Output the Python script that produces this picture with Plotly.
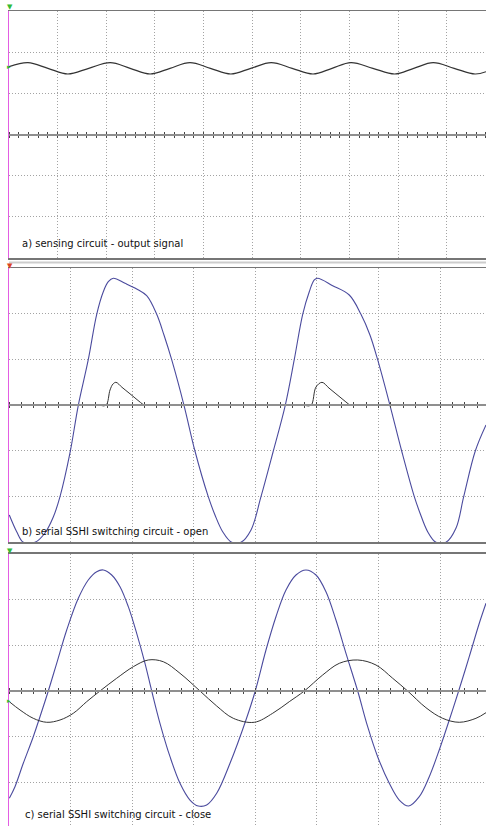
import plotly.graph_objects as go

# ---------------- data (time and amplitude in screen divisions) ----------------
# a) sensing circuit - output signal
A_T = [0.0, 0.39, 0.80, 1.21, 1.64, 2.08, 2.49, 2.90, 3.31, 3.72, 4.14, 4.56, 4.97,
       5.39, 5.82, 6.25, 6.64, 7.03, 7.48, 7.93, 8.32, 8.72, 9.15, 9.58, 9.805]
A_V = [1.647, 1.744, 1.608, 1.470, 1.608, 1.744, 1.608, 1.470, 1.608, 1.744, 1.608, 1.470, 1.608,
       1.744, 1.608, 1.470, 1.608, 1.744, 1.608, 1.470, 1.608, 1.744, 1.608, 1.470, 1.525]

# b) serial SSHI switching circuit - open
B_T1 = [0.005, 0.125, 0.232, 0.422, 0.584, 0.719, 0.828, 0.990, 1.125, 1.287, 1.424, 1.531,
        1.612, 1.693, 1.883, 2.073, 2.235, 2.398, 2.516, 2.641, 2.841, 3.019, 3.235, 3.344,
        3.469, 3.615, 3.766, 3.929, 4.091, 4.291, 4.485, 4.631, 4.768, 4.875, 4.956, 5.011,
        5.255, 5.524, 5.714, 5.860, 5.985, 6.185, 6.375, 6.580, 6.672, 6.797, 6.932, 7.094,
        7.256, 7.382, 7.570, 7.744]
B_V1 = [-2.402, -2.768, -3.0, -3.0, -2.796, -2.446, -2.001, -1.044, 0.0, 0.998, 1.993, 2.487,
        2.706, 2.781, 2.671, 2.547, 2.400, 1.993, 1.539, 0.998, 0.0, -1.001, -2.001, -2.402,
        -2.768, -3.0, -3.0, -2.730, -2.001, -1.001, 0.0, 0.998, 1.993, 2.487, 2.744, 2.781,
        2.619, 2.415, 1.993, 1.539, 0.998, 0.0, -1.001, -2.001, -2.358, -2.768, -3.0, -3.0,
        -2.693, -2.001, -1.001, -0.431]
B_T2 = [1.477, 1.575, 1.640, 1.688, 1.737, 1.834, 1.964, 2.094, 2.192, None,
        4.794, 4.903, 4.984, 5.081, 5.195, 5.308, 5.422, 5.536]
B_V2 = [0.0, 0.0, 0.335, 0.466, 0.503, 0.394, 0.252, 0.107, 0.0, None,
        0.0, 0.0, 0.400, 0.503, 0.377, 0.252, 0.126, 0.0]

# c) serial SSHI switching circuit - close
C_T1 = [0.005, 0.097, 0.232, 0.394, 0.503, 0.638, 0.774, 0.937, 1.125, 1.287, 1.424, 1.531,
        1.667, 1.802, 1.937, 2.073, 2.208, 2.317, 2.451, 2.614, 2.776, 2.938, 3.073, 3.209,
        3.372, 3.588, 3.847, 3.998, 4.172, 4.334, 4.497, 4.659, 4.821, 4.984, 5.146,
        5.308, 5.471, 5.661, 5.823, 5.985, 6.174, 6.336, 6.489, 6.661, 6.823, 6.985, 7.148,
        7.300, 7.472, 7.635, 7.744]
C_V1 = [-2.345, -2.092, -1.580, -0.999, -0.562, 0.0, 0.605, 1.333, 2.026, 2.426, 2.608, 2.645,
        2.536, 2.280, 1.843, 1.261, 0.605, 0.0, -0.706, -1.436, -2.017, -2.383, -2.514, -2.492,
        -2.236, -1.580, -0.634, 0.0, 0.896, 1.624, 2.208, 2.536, 2.645, 2.536, 2.170,
        1.552, 0.824, 0.0, -0.780, -1.436, -2.017, -2.383, -2.514, -2.310, -1.873, -1.290, -0.634,
        0.0, 0.750, 1.480, 1.917]
C_T2 = [0.005, 0.179, 0.394, 0.612, 0.828, 1.044, 1.261, 1.477, 1.748, 2.018, 2.261, 2.505,
        2.776, 3.101, 3.372, 3.641, 3.982, 4.281, 4.550, 4.794, 5.093, 5.362, 5.661, 5.958,
        6.229, 6.472, 6.769, 7.040, 7.310, 7.581, 7.744]
C_V2 = [-0.234, -0.415, -0.597, -0.684, -0.634, -0.487, -0.234, 0.0, 0.278, 0.531, 0.678, 0.640,
        0.387, 0.0, -0.328, -0.597, -0.684, -0.487, -0.234, 0.0, 0.350, 0.605, 0.678, 0.568,
        0.278, 0.0, -0.365, -0.597, -0.684, -0.597, -0.474]

LABELS = ["a) sensing circuit - output signal",
          "b) serial SSHI switching circuit - open",
          "c) serial SSHI switching circuit - close"]

# ---------------- layout helpers ----------------
W, H = 486, 826
LEFT = 9
BLUE = "#4b4b9e"
BLACK = "#333333"
GRID = "#a3a3a3"
MAGENTA = "#e35de3"


def pp(px_y):
    return 1 - px_y / H


panels = [
    dict(top=11, bottom=258, xr=[0, 9.805], yr=[-3, 3], side="bottom", mirror=True),
    dict(top=268.3, bottom=542.3, xr=[0, 7.744], yr=[-3, 3], side="bottom", mirror=True),
    dict(top=553.75, bottom=826, xr=[0, 7.744], yr=[-2.951, 3], side="top", mirror=False),
]

fig = go.Figure()

series = [
    [(A_T, A_V, BLACK, 1.2)],
    [(B_T1, B_V1, BLUE, 1.1), (B_T2, B_V2, BLACK, 1.0)],
    [(C_T1, C_V1, BLUE, 1.1), (C_T2, C_V2, BLACK, 1.0)],
]

layout = {}
annotations = []
xdom = [LEFT / W, 1]
for i, p in enumerate(panels):
    n = i + 1
    xs = "" if n == 1 else str(n)
    ydom = [pp(p["bottom"]), pp(p["top"])]
    layout["xaxis" + xs] = dict(
        domain=xdom, range=p["xr"], anchor="y" + xs, side=p["side"],
        showgrid=True, gridcolor=GRID, griddash="1px,2px", gridwidth=1,
        dtick=1, tick0=0, showticklabels=False, ticks="",
        showline=True, linecolor="#767676", linewidth=1.5, mirror=p["mirror"],
        zeroline=False, fixedrange=True)
    layout["yaxis" + xs] = dict(
        domain=ydom, range=p["yr"], anchor="x" + xs,
        showgrid=True, gridcolor=GRID, griddash="1px,2px", gridwidth=1,
        dtick=1, tick0=0, showticklabels=False, ticks="",
        showline=True, linecolor=MAGENTA, linewidth=1, mirror=False,
        zeroline=False, fixedrange=True)
    # centre axis with crossing tick marks (two overlaid axes)
    r0, r1 = p["yr"]
    cpos = ydom[0] + (0 - r0) / (r1 - r0) * (ydom[1] - ydom[0])
    for k, sd in enumerate(["bottom", "top"]):
        an = 4 + 2 * i + k
        layout["xaxis%d" % an] = dict(
            overlaying="x" + xs, anchor="free", position=cpos, side=sd,
            range=p["xr"], showgrid=False, zeroline=False,
            showline=True, linecolor="#8f8f8f", linewidth=2,
            ticks="outside", ticklen=2, tickwidth=1, tickcolor="#444444",
            dtick=0.2, tick0=0, showticklabels=False, fixedrange=True)
        fig.add_trace(go.Scatter(x=[None], y=[None], xaxis="x%d" % an, yaxis="y" + xs,
                                 showlegend=False, hoverinfo="skip"))
    for (t, v, col, w) in series[i]:
        fig.add_trace(go.Scatter(x=t, y=v, mode="lines", xaxis="x" + xs, yaxis="y" + xs,
                                 line=dict(color=col, width=w, shape="spline", smoothing=1.0),
                                 showlegend=False, hoverinfo="skip", connectgaps=False))

label_pos = [(20, 244), (20, 531.7), (23, 814.3)]
for (lx, ly), txt in zip(label_pos, LABELS):
    annotations.append(dict(x=lx / W, y=pp(ly), xref="paper", yref="paper", text=txt,
                            showarrow=False, xanchor="left", yanchor="middle",
                            font=dict(family="DejaVu Sans", size=10, color="#111111")))

# small scope markers (trigger / channel level)
for (mx, my, sym, col) in [(10, 7, "▼", "#33bb33"), (9, 67, "▸", "#33bb33"),
                           (10, 266, "▼", "#dd4422"), (10, 551, "▼", "#33bb33"),
                           (9, 701, "▸", "#33bb33")]:
    annotations.append(dict(x=mx / W, y=pp(my), xref="paper", yref="paper", text=sym,
                            showarrow=False, xanchor="center", yanchor="middle",
                            font=dict(family="DejaVu Sans", size=7, color=col)))

shapes = [dict(type="line", xref="paper", yref="paper", x0=LEFT / W, x1=1,
               y0=pp(262.5), y1=pp(262.5), line=dict(color="#cdcdcd", width=2))]

fig.update_layout(width=W, height=H, margin=dict(l=0, r=0, t=0, b=0),
                  paper_bgcolor="white", plot_bgcolor="white",
                  annotations=annotations, shapes=shapes, **layout)

fig.write_html("out.html", config={"displayModeBar": False, "staticPlot": True},
               post_script="document.body.style.margin='0px';document.body.style.overflow='hidden';")
